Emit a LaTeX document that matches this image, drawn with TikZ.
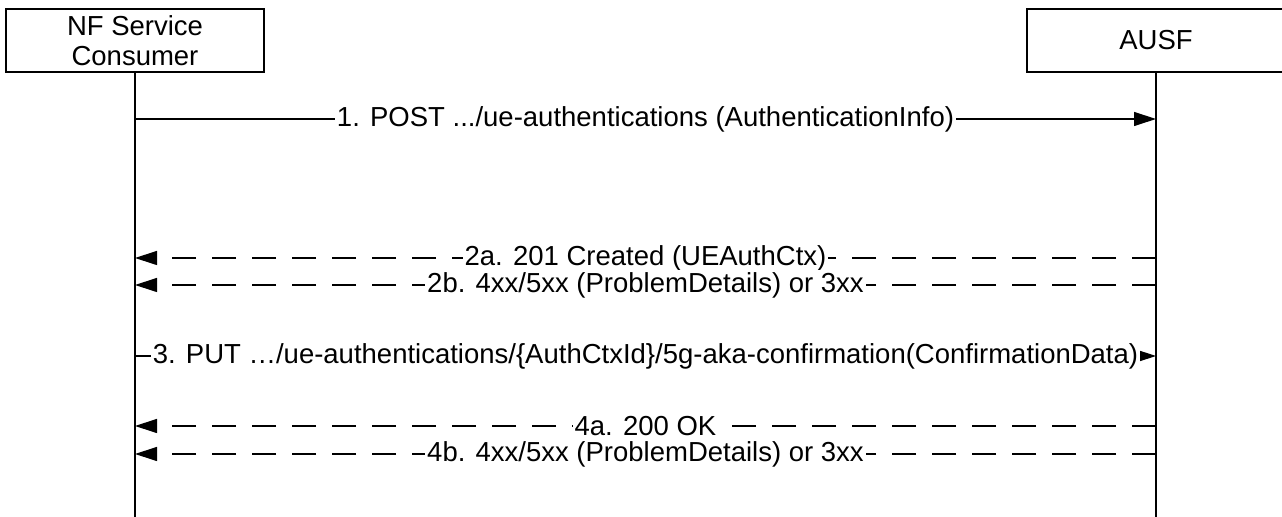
\documentclass[tikz,border=0pt]{standalone}
\usepackage{fontspec}
\setmainfont{Liberation Sans}
\usetikzlibrary{arrows.meta}
\begin{document}
\begin{tikzpicture}[x=0.5pt,y=-0.5pt,
  actor/.style={draw,line width=0.6pt,minimum width=129pt,minimum height=31.5pt,inner sep=0pt,align=center,font=\fontsize{13.75}{15.2}\selectfont},
  life/.style={line width=0.6pt},
  msg/.style={line width=0.6pt,-{Triangle[length=11pt,width=7pt]}},
  reply/.style={msg,dash pattern=on 12pt off 8pt},
  lbl/.style={fill=white,inner xsep=1pt,inner ysep=1pt,font=\fontsize{13.75}{15.2}\selectfont}]
\useasboundingbox (0,0) rectangle (1282,517);
\node[actor] (nf) at (135,40.5) {NF Service\\Consumer};
\node[actor] (ausf) at (1156,40.5) {AUSF};
\coordinate (nfend) at (135,522);
\coordinate (ausfend) at (1156,522);
\draw[life] (nf.south) -- (nfend);
\draw[life] (ausf.south) -- (ausfend);
% message anchor points on the lifelines
\foreach \n/\y in {1/119,2/258,3/285,4/356,5/426,6/454}{
  \coordinate (n\n) at (135,\y);
  \coordinate (a\n) at (1156,\y);
}
\draw[msg] (n1) -- node[lbl]{1. POST .../ue-authentications (AuthenticationInfo)} (a1);
\draw[reply] (a2) -- node[lbl]{2a. 201 Created (UEAuthCtx)} (n2);
\draw[reply] (a3) -- node[lbl]{2b. 4xx/5xx (ProblemDetails) or 3xx} (n3);
\draw[msg] (n4) -- node[lbl]{3. PUT …/ue-authentications/\{AuthCtxId\}/5g-aka-confirmation(ConfirmationData)} (a4);
\draw[reply] (a5) -- node[lbl]{4a. 200 OK} (n5);
\draw[reply] (a6) -- node[lbl]{4b. 4xx/5xx (ProblemDetails) or 3xx} (n6);
\end{tikzpicture}
\end{document}
